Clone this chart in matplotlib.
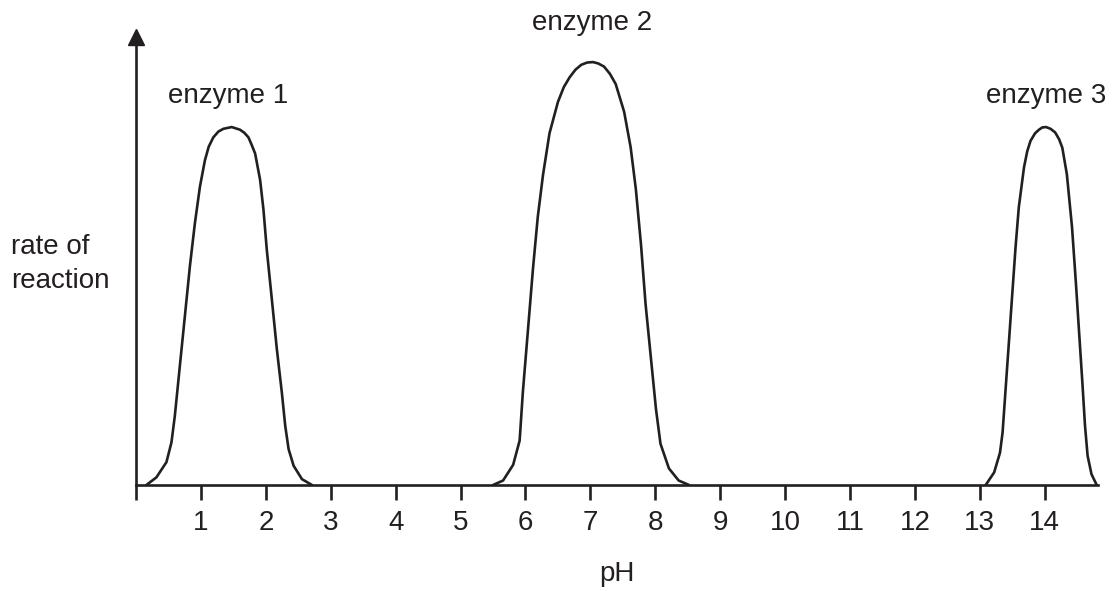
import matplotlib
matplotlib.use("Agg")
import matplotlib.pyplot as plt

plt.rcParams['font.family'] = ['Liberation Sans', 'DejaVu Sans']

# Enzyme curves: (pH, rate of reaction) (axis top = 10)
enzyme1_ph = [0.16, 0.314, 0.469, 0.546, 0.598, 0.675, 0.753, 0.830, 0.907, 0.985, 1.062,
              1.12, 1.191, 1.27, 1.345, 1.474, 1.603, 1.67, 1.732, 1.78, 1.835, 1.912,
              1.964, 2.015, 2.093, 2.170, 2.247, 2.299, 2.351, 2.428, 2.557, 2.711]
enzyme1_rate = [0.0, 0.17, 0.51, 0.95, 1.54, 2.65, 3.77, 4.88, 5.84, 6.66, 7.25,
                7.55, 7.76, 7.89, 7.95, 7.99, 7.93, 7.86, 7.76, 7.60, 7.40, 6.81,
                6.14, 5.25, 4.14, 3.03, 2.06, 1.32, 0.80, 0.43, 0.13, 0.0]

enzyme2_ph = [5.50, 5.655, 5.81, 5.91, 5.96, 6.04, 6.115, 6.19, 6.27, 6.37, 6.50, 6.59,
              6.68, 6.77, 6.86, 6.95, 7.04, 7.12, 7.21, 7.30, 7.39, 7.52, 7.62, 7.70,
              7.78, 7.85, 7.93, 8.01, 8.08, 8.21, 8.36, 8.52]
enzyme2_rate = [0.0, 0.10, 0.45, 0.99, 2.08, 3.49, 4.82, 5.99, 6.92, 7.85, 8.55, 8.88,
                9.10, 9.27, 9.38, 9.43, 9.44, 9.41, 9.34, 9.18, 8.95, 8.33, 7.54, 6.61,
                5.36, 4.04, 2.87, 1.70, 0.92, 0.37, 0.10, 0.0]

enzyme3_ph = [13.09, 13.22, 13.31, 13.35, 13.40, 13.45, 13.50, 13.55, 13.60, 13.68, 13.73,
              13.78, 13.85, 13.91, 13.96, 14.02, 14.09, 14.16, 14.22, 14.27, 14.34, 14.42,
              14.48, 14.53, 14.58, 14.62, 14.66, 14.72, 14.80]
enzyme3_rate = [0.0, 0.28, 0.72, 1.17, 2.21, 3.24, 4.28, 5.31, 6.20, 7.09, 7.45,
                7.68, 7.85, 7.93, 7.98, 7.99, 7.95, 7.87, 7.72, 7.53, 6.94, 5.75,
                4.50, 3.38, 2.27, 1.32, 0.65, 0.24, 0.0]

curve_labels = ["enzyme 1", "enzyme 2", "enzyme 3"]
label_x = [1.42, 7.03, 14.02]
label_y = [8.68, 10.31, 8.68]

tick_values = list(range(0, 15))
tick_labels = [""] + [str(v) for v in range(1, 15)]

W, H = 1117, 591
ax_left, ax_right, ax_bottom, ax_top = 136, 1098, 485, 37

fig = plt.figure(figsize=(W / 100, H / 100), dpi=100)
ax = fig.add_axes([ax_left / W, 1 - ax_bottom / H, (ax_right - ax_left) / W, (ax_bottom - ax_top) / H])

ink = '#231f20'
lw = 1.9
for xs, ys in [(enzyme1_ph, enzyme1_rate), (enzyme2_ph, enzyme2_rate), (enzyme3_ph, enzyme3_rate)]:
    ax.plot(xs, ys, color=ink, lw=lw, solid_joinstyle='round', solid_capstyle='round')

for t, x, y in zip(curve_labels, label_x, label_y):
    ax.text(x, y, t, ha='center', va='center', fontsize=20, color=ink, clip_on=False)

ax.set_xlim(0, 14.82)
ax.set_ylim(0, 10)
ax.spines['top'].set_visible(False)
ax.spines['right'].set_visible(False)
for s in ['left', 'bottom']:
    ax.spines[s].set_linewidth(lw)
    ax.spines[s].set_color(ink)

ax.set_xticks(tick_values)
ax.set_xticklabels(tick_labels, fontsize=20, color=ink)
ax.tick_params(axis='x', direction='out', length=11, width=lw, color=ink, pad=7)
ax.set_yticks([])

ax.plot(0, 1, marker='^', color=ink, markersize=11, transform=ax.transAxes, clip_on=False)

ax.set_xlabel("pH", fontsize=20, color=ink, labelpad=18)
fig.text(11 / W, 1 - 264 / H, "rate of\nreaction", ha='left', va='center', fontsize=20,
         color=ink, linespacing=1.4)

fig.savefig("out.png", dpi=100)
